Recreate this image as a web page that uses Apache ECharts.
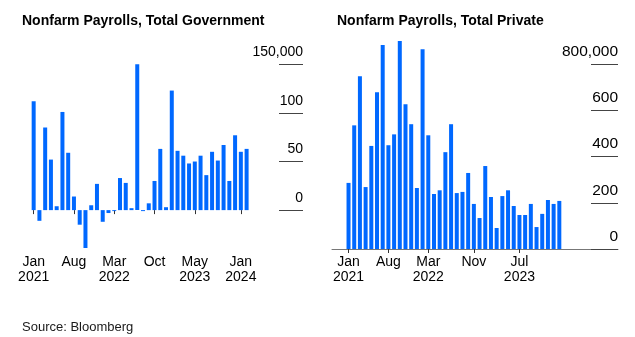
<!DOCTYPE html>
<html>
<head>
<meta charset="utf-8">
<script src="https://cdn.jsdelivr.net/npm/echarts@6/dist/echarts.min.js"></script>
<style>
html,body{margin:0;padding:0;background:#fff;}
#c{width:635px;height:337px;}
</style>
</head>
<body>
<div id="c"></div>
<script>
// Months Jan 2021 .. Feb 2024 (index 0..37)
var months = ['Jan 2021','Feb 2021','Mar 2021','Apr 2021','May 2021','Jun 2021','Jul 2021','Aug 2021','Sep 2021','Oct 2021','Nov 2021','Dec 2021',
  'Jan 2022','Feb 2022','Mar 2022','Apr 2022','May 2022','Jun 2022','Jul 2022','Aug 2022','Sep 2022','Oct 2022','Nov 2022','Dec 2022',
  'Jan 2023','Feb 2023','Mar 2023','Apr 2023','May 2023','Jun 2023','Jul 2023','Aug 2023','Sep 2023','Oct 2023','Nov 2023','Dec 2023',
  'Jan 2024','Feb 2024'];
// Government payroll change, thousands
var govValues = [112,-11,85,52,4,101,59,14,-15,-39,5,27,
  -12,-3,-1,33,28,2,150,-1,7,30,63,3,
  123,61,56,48,50,56,36,60,51,67,30,77,
  60,63];
// Private payroll change, thousands
var privValues = [286,535,747,268,446,678,883,449,496,900,626,540,
  264,864,492,238,254,419,540,242,247,329,195,134,
  359,225,91,229,254,186,147,147,195,95,152,212,
  195,208];

var govTickIdx = [0,7,14,21,28,36];
var govTickLabels = ['Jan\n2021','Aug','Mar\n2022','Oct','May\n2023','Jan\n2024'];
var privTickIdx = [0,7,14,22,30];
var privTickLabels = ['Jan\n2021','Aug','Mar\n2022','Nov','Jul\n2023'];

var govYTicks = [0,50,100,150];
var govYLabels = ['0','50','100','150,000'];
var privYTicks = [0,200,400,600,800];
var privYLabels = ['0','200','400','600','800,000'];

var FONT = 'Liberation Sans, Arial, sans-serif';
var BLUE = '#0068ff';

function lookup(idxs, labels){
  return function(v){
    for (var i=0;i<idxs.length;i++){ if (Math.abs(idxs[i]-v) < 1e-6) return labels[i]; }
    return '';
  };
}
function pairs(vals){ return vals.map(function(v,i){ return [i, v]; }); }

var chart = echarts.init(document.getElementById('c'), null, {renderer:'canvas'});
chart.setOption({
  animation:false,
  backgroundColor:'#fff',
  title:[
    {text:'Nonfarm Payrolls, Total Government', left:17, top:9,
     textStyle:{fontFamily:FONT, fontSize:14, fontWeight:'bold', color:'#000'}},
    {text:'Nonfarm Payrolls, Total Private', left:332, top:9,
     textStyle:{fontFamily:FONT, fontSize:14, fontWeight:'bold', color:'#000'}},
    {text:'Source: Bloomberg', left:17, top:316,
     textStyle:{fontFamily:FONT, fontSize:13, fontWeight:'normal', color:'#1a1a1a'}}
  ],
  grid:[
    {left:21, width:282, top:41, height:208},
    {left:332, width:286, top:41, height:208}
  ],
  xAxis:[
    {type:'value', gridIndex:0, min:-2.2, max:46.8,
     axisLine:{show:false}, splitLine:{show:false},
     axisTick:{show:true, customValues:govTickIdx, length:4, lineStyle:{color:'#333'}},
     axisLabel:{customValues:govTickIdx, formatter:lookup(govTickIdx, govTickLabels), margin:6,
       fontFamily:FONT, fontSize:14, lineHeight:15, color:'#000'}},
    {type:'value', gridIndex:1, min:-2.9, max:47.3,
     axisLine:{show:true, onZero:false, lineStyle:{color:'#777', width:1}}, splitLine:{show:false},
     axisTick:{show:true, customValues:privTickIdx, length:4, lineStyle:{color:'#333'}},
     axisLabel:{customValues:privTickIdx, formatter:lookup(privTickIdx, privTickLabels), margin:6,
       fontFamily:FONT, fontSize:14, lineHeight:15, color:'#000'}}
  ],
  yAxis:[
    {type:'value', gridIndex:0, position:'right', min:-40, max:174,
     axisLine:{show:true, onZero:false, lineStyle:{opacity:0}}, splitLine:{show:false},
     axisTick:{show:true, inside:true, length:24, customValues:govYTicks, lineStyle:{color:'#444'}},
     axisLabel:{inside:true, margin:0, customValues:govYTicks, formatter:lookup(govYTicks, govYLabels),
       verticalAlign:'bottom', lineHeight:14, padding:[0,0,5,0],
       fontFamily:FONT, fontSize:14, color:'#000'}},
    {type:'value', gridIndex:1, position:'right', min:0, max:900,
     axisLine:{show:true, onZero:false, lineStyle:{opacity:0}}, splitLine:{show:false},
     axisTick:{show:true, inside:true, length:27, customValues:privYTicks, lineStyle:{color:'#444'}},
     axisLabel:{inside:true, margin:0, customValues:privYTicks, formatter:lookup(privYTicks, privYLabels),
       verticalAlign:'bottom', lineHeight:15, padding:[0,0,5,0],
       fontFamily:FONT, fontSize:15.5, color:'#000'}}
  ],
  series:[
    {type:'bar', xAxisIndex:0, yAxisIndex:0, data:pairs(govValues), barWidth:4,
     itemStyle:{color:BLUE}},
    {type:'bar', xAxisIndex:1, yAxisIndex:1, data:pairs(privValues), barWidth:4,
     itemStyle:{color:BLUE}}
  ]
});
</script>
</body>
</html>
